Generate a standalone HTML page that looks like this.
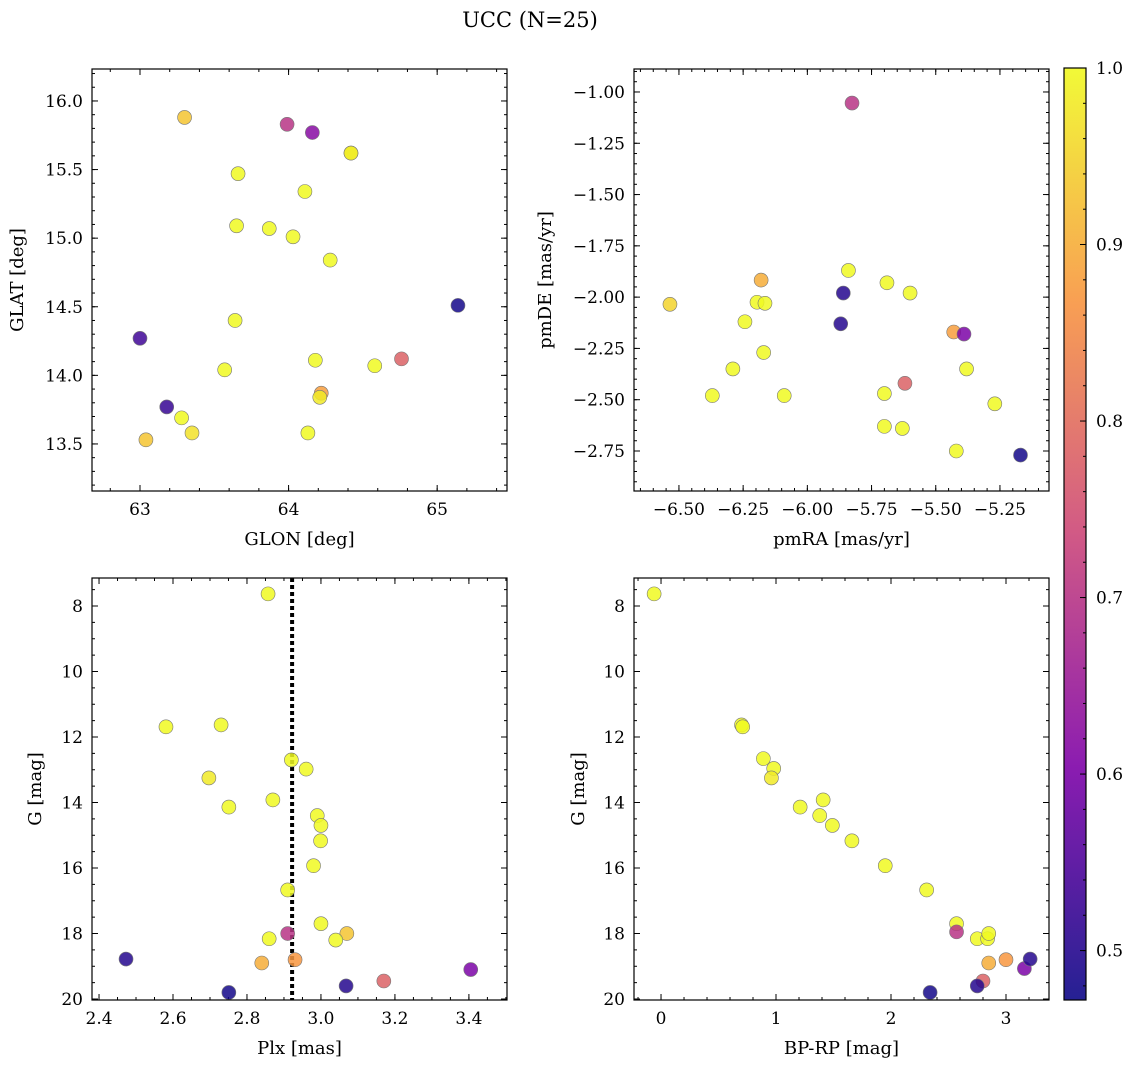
<!DOCTYPE html>
<html><head><meta charset="utf-8"><style>
body{margin:0;background:#fff;}
svg{display:block;font-family:"DejaVu Serif","Liberation Serif",serif;}
</style></head><body>
<svg id="fig" width="1136" height="1068" viewBox="0 0 1136 1068">
<text x="530" y="27" font-size="21" text-anchor="middle">UCC (N=25)</text>
</svg>
<script>
// ---- data ----
const glon=[63.30,63.99,64.16,64.42,64.42,63.66,64.11,63.65,63.87,64.03,64.28,65.14,63.64,63.00,64.18,64.76,63.57,64.58,63.18,64.22,64.21,63.28,63.35,64.13,63.04];
const glat=[15.88,15.83,15.77,15.62,15.62,15.47,15.34,15.09,15.07,15.01,14.84,14.51,14.40,14.27,14.11,14.12,14.04,14.07,13.77,13.87,13.84,13.69,13.58,13.58,13.53];
const prob1=[0.93,0.70,0.62,1,0.98,1,1,1,1,1,1,0.48,1,0.53,1,0.78,1,1,0.52,0.88,0.98,1,0.97,1,0.93];
const pmra=[-5.826,-6.535,-6.196,-6.165,-6.243,-6.18,-5.84,-5.86,-5.69,-5.60,-5.87,-5.43,-5.39,-6.17,-6.29,-5.38,-5.62,-6.37,-6.09,-5.70,-5.27,-5.70,-5.63,-5.42,-5.17];
const pmde=[-1.054,-2.035,-2.025,-2.03,-2.12,-1.917,-1.87,-1.98,-1.93,-1.98,-2.13,-2.17,-2.18,-2.27,-2.35,-2.35,-2.42,-2.48,-2.48,-2.47,-2.52,-2.63,-2.64,-2.75,-2.77];
const prob2=[0.70,0.95,1,1,1,0.90,1,0.50,1,1,0.50,0.88,0.60,1,1,1,0.78,1,1,1,1,1,1,1,0.48];
const plx=[2.857,2.581,2.73,2.697,2.92,2.96,2.751,2.87,2.99,3.0,2.999,2.98,2.91,3.0,3.07,2.86,2.91,3.04,2.84,2.93,2.473,3.17,3.405,2.751,3.068];
const gmag=[7.63,11.69,11.63,13.25,12.7,12.98,14.14,13.92,14.4,14.7,15.17,15.93,16.67,17.7,18.0,18.16,18.0,18.2,18.9,18.8,18.78,19.45,19.1,19.8,19.6];
const prob3=[1,1,1,0.98,1,1,1,1,1,1,1,1,1,1,0.93,1,0.70,1,0.90,0.87,0.50,0.78,0.60,0.48,0.50];
const bprp=[-0.06,0.70,0.71,0.89,0.98,0.96,1.21,1.41,1.38,1.49,1.66,1.95,2.31,2.57,2.57,2.75,2.84,2.85,3.0,2.85,2.80,3.16,3.21,2.75,2.34];
const gmag4=[7.63,11.63,11.69,12.66,12.96,13.25,14.14,13.92,14.4,14.7,15.17,15.93,16.67,17.7,17.95,18.16,18.16,18.0,18.8,18.9,19.45,19.07,18.78,19.6,19.8];
const prob4=[1,1,1,1,1,0.98,1,1,1,1,1,1,1,1,0.70,1,1,1,0.87,0.90,0.78,0.60,0.50,0.50,0.48];
const plxMedian=[2.922];
const cbTicks=[0.5,0.6,0.7,0.8,0.9,1.0];

const NS="http://www.w3.org/2000/svg";
const svg=document.getElementById('fig');
function el(tag,attrs,parent){const e=document.createElementNS(NS,tag);for(const k in attrs)e.setAttribute(k,attrs[k]);(parent||svg).appendChild(e);return e;}
const stops=[[0,[13,8,135]],[0.25,[126,3,168]],[0.5,[204,71,120]],[0.75,[248,149,64]],[1,[240,249,33]]];
function plasma(t){t=Math.max(0,Math.min(1,t));for(let i=1;i<stops.length;i++){if(t<=stops[i][0]){const a=stops[i-1],b=stops[i],f=(t-a[0])/(b[0]-a[0]);const c=a[1].map((v,j)=>Math.round(v+(b[1][j]-v)*f));return `rgb(${c})`;}}return 'rgb(240,249,33)';}
const cmin=0.472,cmax=1.0;
const colorOf=v=>plasma((v-cmin)/(cmax-cmin));
function fmt(v,d){const s=Math.abs(v).toFixed(d);return (v<-1e-9?'\u2212':'')+s;}
const TFS=17, LFS=18;

function panel(o){
  const g=el('g',{});
  
  
  const X=v=>o.x0+(v-o.xmin)/(o.xmax-o.xmin)*(o.x1-o.x0);
  const Y=o.yinv? (v=>o.y0+(v-o.ymin)/(o.ymax-o.ymin)*(o.y1-o.y0)) : (v=>o.y1-(v-o.ymin)/(o.ymax-o.ymin)*(o.y1-o.y0));
  const tg=el('g',{stroke:'#000','stroke-width':1},g);
  function range(lo,hi,step){const r=[];const s=Math.ceil(lo/step-1e-6);for(let i=s;i*step<=hi+1e-9;i++)r.push(+(i*step).toFixed(6));return r;}
  const xlo=Math.min(o.xmin,o.xmax),xhi=Math.max(o.xmin,o.xmax),ylo=Math.min(o.ymin,o.ymax),yhi=Math.max(o.ymin,o.ymax);
  range(xlo,xhi,o.xminor).forEach(v=>{const x=X(v);el('line',{x1:x,x2:x,y1:o.y1,y2:o.y1-3},tg);el('line',{x1:x,x2:x,y1:o.y0,y2:o.y0+3},tg);});
  range(ylo,yhi,o.yminor).forEach(v=>{const y=Y(v);el('line',{x1:o.x0,x2:o.x0+3,y1:y,y2:y},tg);el('line',{x1:o.x1,x2:o.x1-3,y1:y,y2:y},tg);});
  range(xlo,xhi,o.xmajor).forEach(v=>{const x=X(v);el('line',{x1:x,x2:x,y1:o.y1,y2:o.y1-6},tg);el('line',{x1:x,x2:x,y1:o.y0,y2:o.y0+6},tg);
    const t=el('text',{x:x,y:o.y1+24,'font-size':TFS,'text-anchor':'middle'},g);t.textContent=fmt(v,o.xd);
    });
  range(ylo,yhi,o.ymajor).forEach(v=>{const y=Y(v);el('line',{x1:o.x0,x2:o.x0+6,y1:y,y2:y},tg);el('line',{x1:o.x1,x2:o.x1-6,y1:y,y2:y},tg);
    const t=el('text',{x:o.x0-9,y:y+6,'font-size':TFS,'text-anchor':'end'},g);t.textContent=fmt(v,o.yd);
    });
  if(o.vline){o.vline.forEach(v=>{const l=el('line',{x1:X(v),x2:X(v),y1:o.y0,y2:o.y1,stroke:'#000','stroke-width':4,'stroke-dasharray':'4 3'},g);
    });}
  o.xs.forEach((xv,i)=>{const c=el('circle',{cx:X(xv),cy:Y(o.ys[i]),r:7,fill:colorOf(o.cs[i]),'fill-opacity':0.85,stroke:'#777','stroke-width':0.6},g);
    });
  const fr=el('rect',{x:o.x0,y:o.y0,width:o.x1-o.x0,height:o.y1-o.y0,fill:'none',stroke:'#000','stroke-width':1.2},g);
  
  const xl=el('text',{x:(o.x0+o.x1)/2,y:o.y1+54,'font-size':LFS,'text-anchor':'middle'},g);xl.textContent=o.xlabel;
  
  const yx=o.ylx,yy=(o.y0+o.y1)/2;
  const yl=el('text',{x:yx,y:yy,'font-size':LFS,'text-anchor':'middle',transform:`rotate(-90 ${yx} ${yy})`},g);yl.textContent=o.ylabel;
  
}
panel({name:'glon-glat-panel',x0:92,x1:507,y0:69,y1:491,xmin:62.677,xmax:65.47,ymin:13.157,ymax:16.233,xmajor:1,xminor:0.2,ymajor:0.5,yminor:0.1,xd:0,yd:1,xs:glon,ys:glat,cs:prob1,xlabel:'GLON [deg]',ylabel:'GLAT [deg]',ylx:23});
panel({name:'proper-motion-panel',x0:634,x1:1049,y0:69,y1:491,xmin:-6.675,xmax:-5.059,ymin:-2.945,ymax:-0.888,xmajor:0.25,xminor:0.05,ymajor:0.25,yminor:0.05,xd:2,yd:2,xs:pmra,ys:pmde,cs:prob2,xlabel:'pmRA [mas/yr]',ylabel:'pmDE [mas/yr]',ylx:551});
panel({name:'plx-g-panel',x0:92,x1:507,y0:578,y1:1000,xmin:2.381,xmax:3.503,ymin:7.145,ymax:20.03,yinv:true,xmajor:0.2,xminor:0.05,ymajor:2,yminor:0.5,xd:1,yd:0,xs:plx,ys:gmag,cs:prob3,xlabel:'Plx [mas]',ylabel:'G [mag]',ylx:41,vline:plxMedian});
panel({name:'cmd-panel',x0:634,x1:1049,y0:578,y1:1000,xmin:-0.235,xmax:3.374,ymin:7.145,ymax:20.03,yinv:true,xmajor:1,xminor:0.2,ymajor:2,yminor:0.5,xd:0,yd:0,xs:bprp,ys:gmag4,cs:prob4,xlabel:'BP-RP [mag]',ylabel:'G [mag]',ylx:584});

const cb=el('g',{});


const defs=el('defs',{},cb);
const lg=el('linearGradient',{id:'pl',x1:0,y1:1,x2:0,y2:0},defs);
for(let i=0;i<=20;i++){el('stop',{offset:i/20,'stop-color':plasma(i/20),'stop-opacity':0.9},lg);}
const cbx0=1064,cbx1=1086,cby0=68,cby1=1000;
el('rect',{x:cbx0,y:cby0,width:cbx1-cbx0,height:cby1-cby0,fill:'url(#pl)',stroke:'#000','stroke-width':1.2},cb);
const CY=v=>cby1-(v-cmin)/(cmax-cmin)*(cby1-cby0);
for(let v=0.48;v<=1.0001;v+=0.02){el('line',{x1:cbx1,x2:cbx1-3,y1:CY(v),y2:CY(v),stroke:'#000'},cb);}
cbTicks.forEach(v=>{el('line',{x1:cbx1,x2:cbx1-6,y1:CY(v),y2:CY(v),stroke:'#000'},cb);
  const t=el('text',{x:cbx1+10,y:CY(v)+6,'font-size':TFS},cb);t.textContent=v.toFixed(1);
  });
</script>
</body></html>
